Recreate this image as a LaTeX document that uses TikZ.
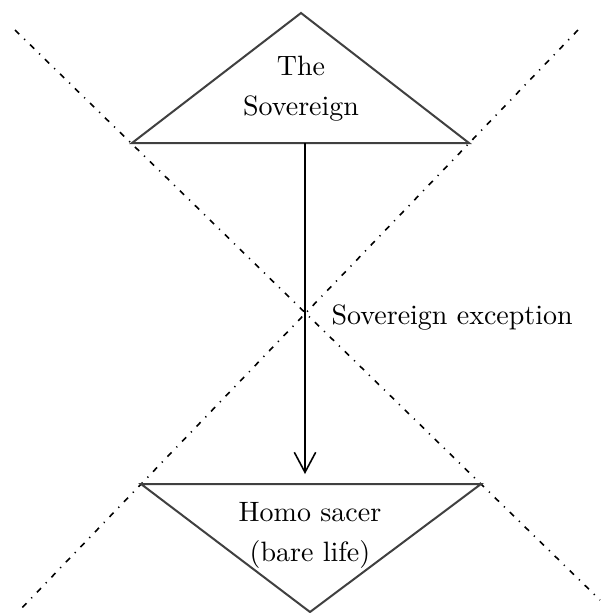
\documentclass[tikz,border=0pt]{standalone}
\usepackage{amsmath}
\usetikzlibrary{arrows.meta}
\tikzset{
  dashdot/.style={line width=0.6pt,dash pattern=on 2.2pt off 2.6pt on 0.45pt off 2.6pt},
  tri/.style={draw=black!75,line width=0.75pt,line join=miter},
  lbl/.style={align=center,inner sep=0pt,font=\fontsize{10.5}{15}\selectfont},
}

\begin{document}
\begin{tikzpicture}[x=0.375pt,y=-0.375pt]
\useasboundingbox (0,0) rectangle (602,613);

\coordinate (a1) at (15,30) ;
\coordinate (a2) at (600,600) ;
\coordinate (b1) at (578,30) ;
\coordinate (b2) at (18,612) ;
\draw [dashdot] (a1) -- (a2) ;
\draw [dashdot] (b1) -- (b2) ;

\coordinate (top) at (301,13) ;
\coordinate (tl) at (132,143) ;
\coordinate (tr) at (469,143) ;
\draw [tri] (top) -- (tr) -- (tl) -- cycle ;
\node [lbl] (sov) at (301,89) {The\\Sovereign} ;

\coordinate (bl) at (141,484) ;
\coordinate (br) at (481,484) ;
\coordinate (bot) at (310,612) ;
\draw [tri] (bl) -- (br) -- (bot) -- cycle ;
\node [lbl] (homo) at (310,535) {Homo sacer\\(bare life)} ;

\coordinate (s) at (305,143) ;
\coordinate (e) at (305,474) ;
\draw [line width=0.6pt,-{Straight Barb[length=7.5pt,width=8pt,line width=0.6pt]}] (s) -- (e) ;
\node [anchor=base west,inner sep=0pt,font=\fontsize{10.5}{15}\selectfont] (exc) at (331,324) {Sovereign exception} ;

\end{tikzpicture}
\end{document}
